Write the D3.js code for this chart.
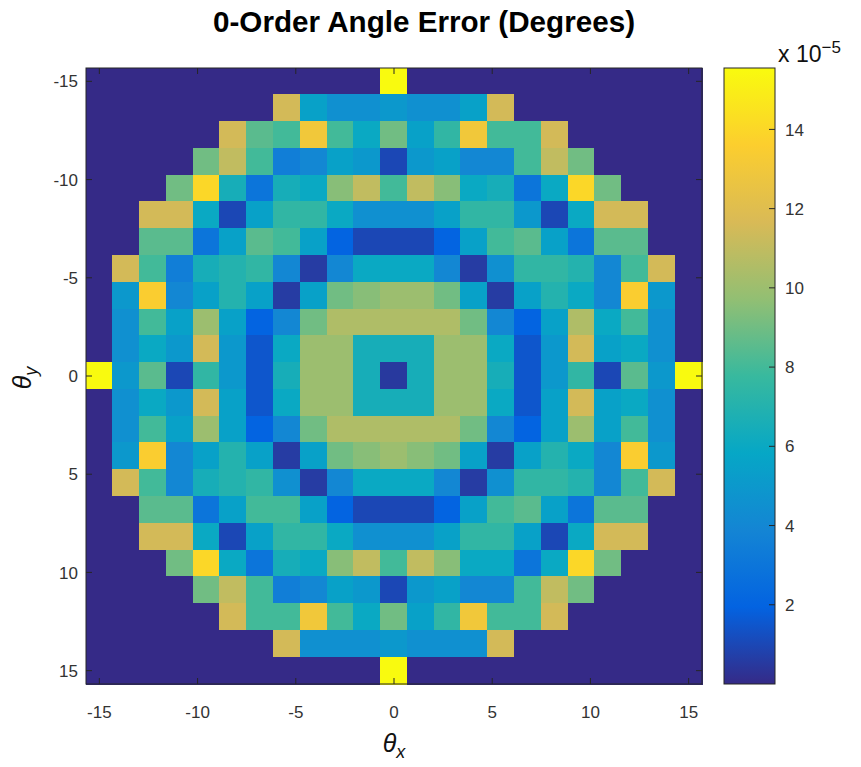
<!DOCTYPE html>
<html>
<head>
<meta charset="utf-8">
<script src="https://cdn.jsdelivr.net/npm/d3@7"></script>
<style>
  body { margin: 0; background: #fff; }
  text { font-family: "Liberation Sans", Arial, sans-serif; }
</style>
</head>
<body>
<svg id="chart" width="861" height="767"></svg>
<script>
// cell centres (degrees), same for theta_x and theta_y
var thetaVals = [-15, -13.64, -12.27, -10.91, -9.55, -8.18, -6.82, -5.45, -4.09, -2.73, -1.36, 0,
                 1.36, 2.73, 4.09, 5.45, 6.82, 8.18, 9.55, 10.91, 12.27, 13.64, 15];
var axisTicks = [-15, -10, -5, 0, 5, 10, 15];
var cbTicks = [2, 4, 6, 8, 10, 12, 14];
var cbMax = 15.55;

// error values, units of 1e-5 degrees; row = theta_y (top to bottom), col = theta_x
var errRows = [
  [0,0,0,0,0,0,0,0,0,0,0,15.5,0,0,0,0,0,0,0,0,0,0,0],
  [0,0,0,0,0,0,0,11.5,5.5,4.5,4.5,5,4.5,4.5,5.5,11.5,0,0,0,0,0,0,0],
  [0,0,0,0,0,11.5,8.5,8,13,8,6,9,5.5,7.5,13,8,8,11.5,0,0,0,0,0],
  [0,0,0,0,9,11,8,3.5,4,5.5,5,1,5,5.5,4,4,8,11,9,0,0,0,0],
  [0,0,0,9,14,6.5,3,6.5,6,9.5,11,8,11,9.5,6,6.5,3,6,14,9,0,0,0],
  [0,0,11.5,11.5,6,1,5.5,7.5,7.5,6,4.5,4.5,4.5,5.5,7.5,7.5,5,1,6,11.5,11.5,0,0],
  [0,0,8.5,8.5,3,5.5,8.5,8,5.5,2,1,1,1,2,5.5,8,8.5,5.5,3,8.5,8.5,0,0],
  [0,11.5,8,3.5,6.5,7,7.5,4,0.6,4,6,6,6,4,0.6,4.5,7.5,7.5,7,4,8,11.5,0],
  [0,5,13.5,4,5.5,7,5.5,0.6,5.5,9,9.5,10,10,9,5.5,0.6,5.5,7,6,4,13.5,5,0],
  [0,4.5,8,5.5,10,5.5,2,4,9,10.5,10.5,10.5,10.5,10.5,9,4,2,5.5,10.5,6,8,4.5,0],
  [0,4.5,6,5,11.5,5,1.5,6,10,10,6.5,6.5,6.5,10,10,6,1.5,5,11.5,5.5,6,4.5,0],
  [15.5,5,8.5,1,7.5,5,1.5,6.5,10,10,6.5,0.5,6.5,10,10,6.5,1.5,5,7.5,1,8.5,5,15.5],
  [0,4.5,6,5,11.5,5.5,1.5,6,10,10,6.5,6.5,6.5,10,10,6,1.5,5.5,11.5,5.5,6,4.5,0],
  [0,4.5,8,5.5,10,5.5,2,4,9,10.5,10.5,10.5,10.5,10.5,9,4,2,5.5,10,5.5,8,4.5,0],
  [0,5,13.5,4,5.5,7,5.5,0.6,5.5,9,9.5,10,9.5,9,5.5,0.6,5.5,7,6,4,13.5,5,0],
  [0,11.5,8,4,6.5,7,7.5,4.5,0.6,4,6,6,6,4,0.6,4.5,7.5,7.5,7,4,8,11.5,0],
  [0,0,8.5,8.5,3,5.5,8,8,5.5,2,1,1,1,2,5.5,8,8.5,5.5,3,8.5,8.5,0,0],
  [0,0,11.5,11.5,6,1,5.5,7.5,7.5,6,4.5,4.5,4.5,5.5,7.5,7.5,5.5,1,6,11.5,11.5,0,0],
  [0,0,0,9,14,6,3,6.5,6,9.5,11,8,11,9.5,6,6,3,6,14,9,0,0,0],
  [0,0,0,0,9,11,8,3.5,4,5.5,5,1,5,5.5,4,4,8,11,9,0,0,0,0],
  [0,0,0,0,0,11.5,8,8,13,8,6,9,5.5,7.5,13,8,8,11.5,0,0,0,0,0],
  [0,0,0,0,0,0,0,11.5,4.5,4.5,4.5,5,4.5,4.5,4.5,11.5,0,0,0,0,0,0,0],
  [0,0,0,0,0,0,0,0,0,0,0,15.5,0,0,0,0,0,0,0,0,0,0,0]
];

var parula = ["#352a87", "#0363e1", "#1485d4", "#06a7c6", "#38b99e",
              "#92bf73", "#d9ba56", "#fcce2e", "#f9fb0e"];

var plot = {left: 86, top: 68, size: 616};
var cb = {left: 724, width: 51};
var half = (thetaVals[1] - thetaVals[0]) / 2;

var svg = d3.select("#chart");

var xScale = d3.scaleLinear()
    .domain([thetaVals[0] - half, thetaVals[thetaVals.length - 1] + half])
    .range([plot.left, plot.left + plot.size]);
var yScale = d3.scaleLinear()
    .domain([thetaVals[0] - half, thetaVals[thetaVals.length - 1] + half])
    .range([plot.top, plot.top + plot.size]);
var color = d3.scaleSequential(d3.piecewise(d3.interpolateRgb, parula)).domain([0, cbMax]);

var cells = [];
errRows.forEach(function (row, j) {
    row.forEach(function (v, i) {
        cells.push({tx: thetaVals[i], ty: thetaVals[j], v: v});
    });
});

var cellW = xScale(thetaVals[1]) - xScale(thetaVals[0]);

svg.append("g")
    .attr("shape-rendering", "crispEdges")
    .selectAll("rect")
    .data(cells)
    .enter().append("rect")
    .attr("x", function (d) { return Math.floor(xScale(d.tx - half)); })
    .attr("y", function (d) { return Math.floor(yScale(d.ty - half)); })
    .attr("width", Math.ceil(cellW) + 1)
    .attr("height", Math.ceil(cellW) + 1)
    .attr("fill", function (d) { return color(d.v); });

// frame + inward ticks like matlab
var axisG = svg.append("g");
axisG.append("rect")
    .attr("x", plot.left).attr("y", plot.top)
    .attr("width", plot.size).attr("height", plot.size)
    .attr("fill", "none").attr("stroke", "#262626").attr("stroke-width", 1);

axisTicks.forEach(function (t) {
    var x = xScale(t), y = yScale(t);
    axisG.append("line").attr("x1", x).attr("x2", x).attr("y1", plot.top).attr("y2", plot.top + 6);
    axisG.append("line").attr("x1", x).attr("x2", x).attr("y1", plot.top + plot.size).attr("y2", plot.top + plot.size - 6);
    axisG.append("line").attr("y1", y).attr("y2", y).attr("x1", plot.left).attr("x2", plot.left + 6);
    axisG.append("line").attr("y1", y).attr("y2", y).attr("x1", plot.left + plot.size).attr("x2", plot.left + plot.size - 6);
});
axisG.selectAll("line").attr("stroke", "#262626").attr("stroke-width", 1);

axisG.selectAll(".xlab")
    .data(axisTicks)
    .enter().append("text")
    .attr("class", "xlab")
    .attr("x", function (d) { return xScale(d); })
    .attr("y", plot.top + plot.size + 34)
    .attr("text-anchor", "middle")
    .attr("font-size", "17px")
    .attr("fill", "#333")
    .text(function (d) { return d; });

axisG.selectAll(".ylab")
    .data(axisTicks)
    .enter().append("text")
    .attr("class", "ylab")
    .attr("x", plot.left - 8)
    .attr("y", function (d) { return yScale(d); })
    .attr("dy", "0.36em")
    .attr("text-anchor", "end")
    .attr("font-size", "17px")
    .attr("fill", "#333")
    .text(function (d) { return d; });

// colorbar
var cbScale = d3.scaleLinear().domain([0, cbMax]).range([plot.top + plot.size, plot.top]);
var defs = svg.append("defs");
var grad = defs.append("linearGradient")
    .attr("id", "parulaGrad")
    .attr("x1", "0").attr("y1", "1").attr("x2", "0").attr("y2", "0");
parula.forEach(function (c, i) {
    grad.append("stop").attr("offset", (i / (parula.length - 1) * 100) + "%").attr("stop-color", c);
});

var cbG = svg.append("g");
cbG.append("rect")
    .attr("x", cb.left).attr("y", plot.top)
    .attr("width", cb.width).attr("height", plot.size)
    .attr("fill", "url(#parulaGrad)")
    .attr("stroke", "#262626").attr("stroke-width", 1);

cbG.selectAll(".cbtick")
    .data(cbTicks)
    .enter().append("line")
    .attr("class", "cbtick")
    .attr("x1", cb.left + cb.width - 6).attr("x2", cb.left + cb.width)
    .attr("y1", function (d) { return cbScale(d); })
    .attr("y2", function (d) { return cbScale(d); })
    .attr("stroke", "#262626");

cbG.selectAll(".cblab")
    .data(cbTicks)
    .enter().append("text")
    .attr("class", "cblab")
    .attr("x", cb.left + cb.width + 10)
    .attr("y", function (d) { return cbScale(d); })
    .attr("dy", "0.36em")
    .attr("font-size", "17px")
    .attr("fill", "#333")
    .text(function (d) { return d; });

var expo = cbG.append("text")
    .attr("x", 778).attr("y", 62)
    .attr("font-family", "'Liberation Serif', serif")
    .attr("font-size", "23px")
    .attr("fill", "#111");
expo.append("tspan").text("x 10");
expo.append("tspan").attr("dy", -9).attr("font-size", "17px").text("\u22125");

// title and axis labels
svg.append("text")
    .attr("x", 424).attr("y", 32)
    .attr("text-anchor", "middle")
    .attr("font-family", "'Open Sans', sans-serif")
    .attr("font-weight", "bold")
    .attr("font-size", "30px")
    .attr("textLength", 422)
    .attr("lengthAdjust", "spacingAndGlyphs")
    .attr("fill", "#000")
    .text("0-Order Angle Error (Degrees)");

var xl = svg.append("text")
    .attr("x", 394).attr("y", 752)
    .attr("text-anchor", "middle")
    .attr("font-family", "'Liberation Serif', serif")
    .attr("font-style", "italic")
    .attr("font-size", "25px")
    .attr("fill", "#111");
xl.append("tspan").text("\u03b8");
xl.append("tspan").attr("dy", 6).attr("font-size", "18px").text("x");

var yl = svg.append("text")
    .attr("transform", "translate(31,378) rotate(-90)")
    .attr("text-anchor", "middle")
    .attr("font-family", "'Liberation Serif', serif")
    .attr("font-style", "italic")
    .attr("font-size", "25px")
    .attr("fill", "#111");
yl.append("tspan").text("\u03b8");
yl.append("tspan").attr("dy", 6).attr("font-size", "18px").text("y");
</script>
</body>
</html>
